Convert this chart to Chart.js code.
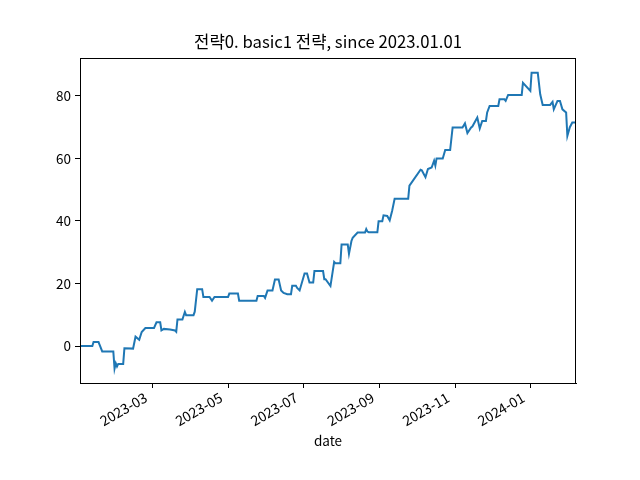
<!DOCTYPE html>
<html>
<head>
<meta charset="utf-8">
<script src="https://cdn.jsdelivr.net/npm/chart.js@4/dist/chart.umd.min.js"></script>
<style>
  html, body { margin: 0; padding: 0; background: #ffffff; }
  #wrap { width: 640px; height: 480px; }
</style>
</head>
<body>
<div id="wrap"><canvas id="c" width="640" height="480"></canvas></div>
<script>
const chartTitle = '전략0. basic1 전략, since 2023.01.01';
const xAxisTitle = 'date';
const startDate = '2023-01-01';
const endDate = '2024-02-07';

const dates = ['2023-01-01','2023-01-11','2023-01-12','2023-01-16','2023-01-17','2023-01-19','2023-01-28','2023-01-29','2023-01-30','2023-01-31',
  '2023-02-01','2023-02-05','2023-02-06','2023-02-13','2023-02-15','2023-02-18','2023-02-20','2023-02-23',
  '2023-03-02','2023-03-04','2023-03-07','2023-03-08','2023-03-10','2023-03-15','2023-03-19','2023-03-20','2023-03-21','2023-03-25','2023-03-27','2023-03-28',
  '2023-04-03','2023-04-04','2023-04-06','2023-04-10','2023-04-11','2023-04-16','2023-04-18','2023-04-20',
  '2023-05-01','2023-05-02','2023-05-09','2023-05-10','2023-05-24','2023-05-25','2023-05-30','2023-05-31',
  '2023-06-02','2023-06-06','2023-06-08','2023-06-11','2023-06-13','2023-06-15','2023-06-18','2023-06-21','2023-06-22','2023-06-25','2023-06-26','2023-06-28',
  '2023-07-02','2023-07-04','2023-07-06','2023-07-09','2023-07-10','2023-07-17','2023-07-18','2023-07-19','2023-07-23','2023-07-26','2023-07-27','2023-07-31',
  '2023-08-01','2023-08-06','2023-08-07','2023-08-09','2023-08-10','2023-08-14','2023-08-20','2023-08-21','2023-08-22','2023-08-23','2023-08-30','2023-08-31',
  '2023-09-03','2023-09-04','2023-09-07','2023-09-09','2023-09-11','2023-09-13','2023-09-24','2023-09-25','2023-09-27',
  '2023-10-04','2023-10-05','2023-10-08','2023-10-10','2023-10-13','2023-10-15','2023-10-16','2023-10-17','2023-10-22','2023-10-24','2023-10-28','2023-10-30',
  '2023-11-07','2023-11-09','2023-11-11','2023-11-14','2023-11-15','2023-11-19','2023-11-21','2023-11-23','2023-11-26','2023-11-27','2023-11-29',
  '2023-12-06','2023-12-07','2023-12-11','2023-12-12','2023-12-14','2023-12-25','2023-12-26',
  '2024-01-01','2024-01-02','2024-01-07','2024-01-09','2024-01-11','2024-01-17','2024-01-19','2024-01-20','2024-01-23','2024-01-25','2024-01-27','2024-01-30','2024-01-31',
  '2024-02-02','2024-02-04','2024-02-07'];

const values = [0,0,1.3,1.3,0.3,-1.7,-1.7,-7.2,-5.5,-6.5,
  -5.7,-5.7,-0.7,-0.8,3.0,2.0,4.5,5.8,
  5.8,7.6,7.6,5.0,5.5,5.3,5.0,4.6,8.5,8.5,10.9,9.9,
  9.9,11.0,18.2,18.2,15.7,15.7,14.5,15.7,
  15.7,16.8,16.8,14.5,14.5,16.0,16.0,15.4,
  17.8,17.8,21.3,21.3,17.8,17.0,16.6,16.6,19.3,19.3,18.6,17.8,
  23.2,23.2,20.3,20.3,24.0,24.0,21.4,21.4,19.2,26.9,26.5,26.5,
  32.5,32.5,29.5,33.6,34.6,36.3,36.3,37.4,36.6,36.4,36.4,39.9,
  39.9,41.8,41.6,40.2,43.3,47.1,47.1,51.3,52.4,
  56.4,56.2,54.0,56.6,57.1,59.3,57.7,60.0,60.0,62.7,62.7,69.9,
  69.9,71.2,68.1,69.9,70.2,73.1,69.6,72.0,72.0,74.7,76.8,
  76.8,78.9,78.9,78.4,80.3,80.3,84.2,
  81.6,87.4,87.4,80.5,77.1,77.1,78.1,75.7,78.4,78.4,75.7,74.7,67.2,
  70.0,71.5,71.5];

const xTickLabels = ['2023-03','2023-05','2023-07','2023-09','2023-11','2024-01'];
const yTickValues = [0, 20, 40, 60, 80];
const yMin = -11.8, yMax = 92.1;

const DAY = 86400000;
function toDay(s) {
  const [y, m, d] = s.split('-').map(Number);
  return Math.round((Date.UTC(y, m - 1, d) - Date.UTC(2023, 0, 1)) / DAY);
}
const points = dates.map((d, i) => ({ x: toDay(d), y: values[i] }));
const xTickDays = xTickLabels.map(l => toDay(l + '-01'));

const FONT = "'Noto Sans CJK KR', 'Noto Sans', 'DejaVu Sans', sans-serif";

const frame = {
  id: 'frame',
  afterDraw(chart) {
    const { ctx, chartArea: a } = chart;
    ctx.save();
    ctx.strokeStyle = '#000';
    ctx.lineWidth = 1;
    ctx.strokeRect(Math.round(a.left) + 0.5, Math.round(a.top) + 0.5,
                   Math.round(a.right - a.left) - 1, Math.round(a.bottom - a.top));
    ctx.restore();
  }
};

new Chart(document.getElementById('c'), {
  type: 'line',
  data: {
    datasets: [{
      data: points,
      borderColor: '#1f77b4',
      borderWidth: 2,
      pointRadius: 0,
      tension: 0,
      fill: false
    }]
  },
  plugins: [frame],
  options: {
    responsive: false,
    devicePixelRatio: 1,
    animation: false,
    layout: { padding: { left: 0, right: 64, top: 0, bottom: 0 } },
    plugins: {
      legend: { display: false },
      tooltip: { enabled: false },
      title: {
        display: true,
        fullSize: false,
        text: chartTitle,
        color: '#000',
        font: { family: FONT, size: 16.7, weight: 'normal', lineHeight: 1.2 },
        padding: { top: 32, bottom: 6 }
      }
    },
    scales: {
      x: {
        type: 'linear',
        min: toDay(startDate),
        max: toDay(endDate),
        afterBuildTicks(scale) { scale.ticks = xTickDays.map(v => ({ value: v })); },
        afterFit(scale) { scale.height = 97; },
        ticks: {
          color: '#000',
          font: { family: FONT, size: 14 },
          minRotation: 30,
          maxRotation: 30,
          autoSkip: false,
          padding: 1,
          labelOffset: -7,
          callback(v) { const i = xTickDays.indexOf(v); return i >= 0 ? xTickLabels[i] : ''; }
        },
        grid: { display: true, drawOnChartArea: false, drawTicks: true, tickLength: 5, color: '#000' },
        border: { display: true, color: '#000', width: 1 },
        title: {
          display: true,
          text: xAxisTitle,
          color: '#000',
          font: { family: FONT, size: 13.5, lineHeight: 1.2 },
          padding: { top: 0, bottom: 31 }
        }
      },
      y: {
        type: 'linear',
        min: yMin,
        max: yMax,
        afterBuildTicks(scale) { scale.ticks = yTickValues.map(v => ({ value: v })); },
        afterFit(scale) { scale.width = 80; },
        ticks: {
          color: '#000',
          font: { family: FONT, size: 13.5 },
          padding: 4
        },
        grid: { display: true, drawOnChartArea: false, drawTicks: true, tickLength: 5, color: '#000' },
        border: { display: true, color: '#000', width: 1 }
      }
    }
  }
});
</script>
</body>
</html>
